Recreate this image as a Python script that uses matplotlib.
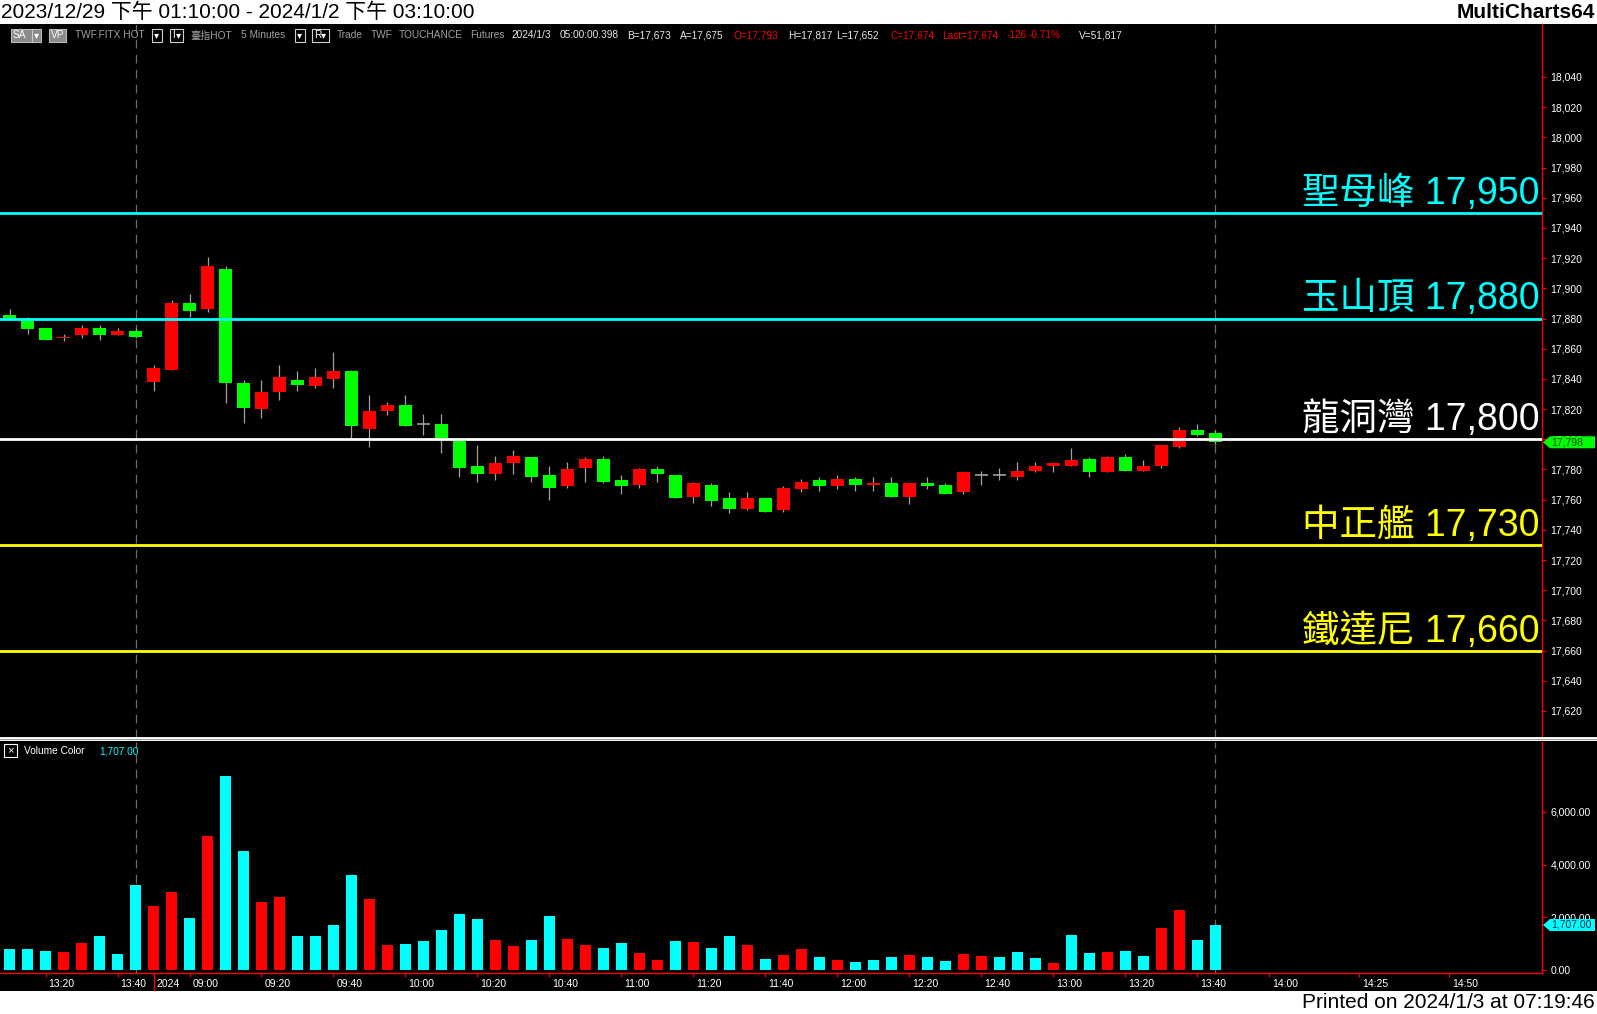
import matplotlib
matplotlib.use('Agg')
import matplotlib.pyplot as plt
import matplotlib.transforms as mtrans
from matplotlib.patches import Rectangle, Polygon
from matplotlib.lines import Line2D

plt.rcParams['font.family'] = ['Liberation Sans', 'Noto Sans CJK TC', 'DejaVu Sans']

W, H, DPI = 1597, 1014, 100

# ---------------- data ----------------
opens = [17882, 17880, 17874, 17867, 17869, 17874, 17869, 17872,
         17838, 17846, 17890, 17886, 17913, 17837, 17820, 17831, 17839, 17835, 17840, 17845,
         17807, 17819, 17823, 17810, 17810, 17800, 17782, 17777, 17784, 17788,
         17776, 17769, 17781, 17787, 17773, 17770, 17780, 17776, 17762, 17770,
         17761, 17754, 17761, 17753, 17767, 17773, 17769, 17774, 17770, 17771,
         17762, 17771, 17770, 17765, 17776, 17776, 17775, 17779, 17782, 17782,
         17787, 17778, 17788, 17779, 17782, 17795, 17806, 17804]
highs = [17886, 17881, 17874, 17870, 17876, 17876, 17874, 17874,
         17849, 17892, 17896, 17921, 17915, 17839, 17839, 17849, 17845, 17847, 17858, 17846,
         17829, 17825, 17829, 17817, 17817, 17800, 17796, 17789, 17793, 17788,
         17782, 17785, 17788, 17789, 17776, 17781, 17782, 17776, 17772, 17771,
         17765, 17765, 17761, 17769, 17774, 17775, 17776, 17775, 17775, 17775,
         17771, 17775, 17771, 17778, 17779, 17781, 17785, 17785, 17784, 17794,
         17788, 17789, 17790, 17786, 17796, 17808, 17810, 17806]
lows = [17879, 17870, 17866, 17865, 17867, 17866, 17869, 17867,
        17832, 17846, 17881, 17884, 17824, 17811, 17814, 17826, 17832, 17834, 17834, 17800,
        17795, 17816, 17809, 17803, 17791, 17775, 17772, 17773, 17777, 17772,
        17760, 17768, 17772, 17771, 17764, 17768, 17772, 17761, 17758, 17756,
        17751, 17753, 17752, 17752, 17765, 17766, 17767, 17766, 17766, 17762,
        17757, 17767, 17764, 17764, 17770, 17773, 17773, 17778, 17778, 17782,
        17775, 17778, 17779, 17779, 17781, 17794, 17802, 17797]
closes = [17879, 17873, 17866, 17868, 17874, 17869, 17872, 17868,
          17847, 17890, 17885, 17915, 17837, 17821, 17831, 17841, 17836, 17841, 17845, 17809,
          17819, 17823, 17809, 17810, 17800, 17781, 17777, 17784, 17789, 17775,
          17768, 17780, 17787, 17772, 17769, 17780, 17777, 17761, 17771, 17759,
          17754, 17761, 17752, 17768, 17772, 17769, 17774, 17770, 17771, 17762,
          17771, 17769, 17764, 17778, 17776, 17776, 17779, 17782, 17784, 17786,
          17778, 17788, 17779, 17782, 17796, 17806, 17803, 17798]
volumes = [796, 796, 720, 683, 1024, 1289, 607, 3223,
           2427, 2958, 1972, 5081, 7356, 4512, 2579, 2768, 1289, 1289, 1706, 3602,
           2692, 948, 986, 1100, 1517, 2124, 1934, 1138, 910, 1138,
           2048, 1176, 948, 834, 1024, 645, 379, 1100, 1062, 834,
           1289, 948, 417, 569, 796, 493, 379, 303, 379, 493,
           569, 493, 341, 607, 531, 493, 683, 455, 265, 1327,
           645, 683, 720, 531, 1593, 2275, 1138, 1707]
# U = up volume (red), D = down volume (cyan)
vol_dir = "DDDUUDDDUU" "DUDDUUDDDD" "UUDDDDDUUD" "DUUDDUUDUD" "DUDUUDUDDD" "UDDUUDDDUD" "DUDDUUDD"

session_end_bars = [7, 67]
session_start_bar = 8
tick_positions = [2, 6, 8, 10, 14, 18, 22, 26, 30, 34, 38, 42, 46, 50, 54, 58, 62, 66, 70, 75, 80]
tick_labels = ['13:20', '13:40', '2024', '09:00', '09:20', '09:40', '10:00', '10:20', '10:40',
               '11:00', '11:20', '11:40', '12:00', '12:20', '12:40', '13:00', '13:20', '13:40',
               '14:00', '14:25', '14:50']
price_ticks = list(range(17620, 18041, 20))
vol_ticks = [0, 2000, 4000, 6000]

level_names = ['聖母峰', '玉山頂', '龍洞灣', '中正艦', '鐵達尼']
level_values = [17950, 17880, 17800, 17730, 17660]
level_colors = ['#00FFFF', '#00FFFF', '#FFFFFF', '#FFFF00', '#FFFF00']

last_price = 17798
last_volume = 1707

title_text = '2023/12/29 下午 01:10:00 - 2024/1/2 下午 03:10:00'
printed_text = 'Printed on 2024/1/3 at 07:19:46'

# ---------------- figure ----------------
fig = plt.figure(figsize=(W / DPI, H / DPI), dpi=DPI, facecolor='white')


def fx(x):
    return x / W


def fy(y):
    return 1 - y / H


fig.patches.append(Rectangle((0, fy(991)), 1, fy(24) - fy(991), transform=fig.transFigure,
                             facecolor='black', edgecolor='none', zorder=-10))

ax = fig.add_axes([0, fy(738), fx(1542), fy(24) - fy(738)])
vax = fig.add_axes([0, fy(973), fx(1542), fy(742) - fy(973)])
for a in (ax, vax):
    a.set_facecolor('black')
    for s in ('top', 'left', 'bottom'):
        a.spines[s].set_visible(False)
    a.spines['right'].set_color('#FF0000')
    a.spines['right'].set_linewidth(1.0)
    a.set_xlim(-0.528, 85.14)

ax.set_ylim(17602.1, 18075.1)
vax.set_ylim(-114, 8648)

n = len(opens)
xs = list(range(n))
wick_c = '#A0A0A0'
ax.vlines(xs, lows, highs, color=wick_c, lw=0.9, zorder=2)
bw = 0.72
for i in xs:
    o, c = opens[i], closes[i]
    if c > o:
        ax.bar(i, c - o, bottom=o, width=bw, color='#FF0000', zorder=3, linewidth=0)
    elif c < o:
        ax.bar(i, o - c, bottom=c, width=bw, color='#00FF00', zorder=3, linewidth=0)
    else:
        ax.hlines(o, i - bw / 2, i + bw / 2, color=wick_c, lw=1.2, zorder=3)

for name, val, col in zip(level_names, level_values, level_colors):
    ax.axhline(val, color=col, lw=2.0, zorder=5)
    ax.text(0.9985, val + 6, f'{name} {val:,}', color=col, fontsize=27,
            ha='right', va='baseline', transform=mtrans.blended_transform_factory(ax.transAxes, ax.transData),
            zorder=6)

for b in session_end_bars:
    for a in (ax, vax):
        a.axvline(b, color='#6A6A6A', lw=0.9, ls=(0, (7, 5)), zorder=1)

ax.yaxis.tick_right()
ax.set_yticks(price_ticks)
ax.set_yticklabels([f'{v:,}' for v in price_ticks])
ax.tick_params(axis='y', colors='#FF0000', labelcolor='white', length=3, width=0.8, labelsize=7.5, pad=3)
ax.set_xticks([])

# volume
vcols = ['#FF0000' if d == 'U' else '#00FFFF' for d in vol_dir]
vax.bar(xs, volumes, width=0.61, color=vcols, linewidth=0, zorder=3)
vax.yaxis.tick_right()
vax.set_yticks(vol_ticks)
vax.set_yticklabels([f'{v:,.2f}' for v in vol_ticks])
vax.tick_params(axis='y', colors='#FF0000', labelcolor='white', length=3, width=0.8, labelsize=7.5, pad=3)
vax.spines['bottom'].set_visible(True)
vax.spines['bottom'].set_color('#FF0000')
vax.spines['bottom'].set_linewidth(1.0)
vax.set_xticks(tick_positions)
vax.set_xticklabels(tick_labels)
vax.tick_params(axis='x', colors='#FF0000', labelcolor='white', length=3, width=0.8, labelsize=7.5, pad=1.5)
shift = mtrans.ScaledTranslation(0.03, 0, fig.dpi_scale_trans)
for lbl in vax.get_xticklabels():
    lbl.set_horizontalalignment('left')
    lbl.set_transform(lbl.get_transform() + shift)
vax.plot([session_start_bar, session_start_bar], [0, -0.075], color='#FF0000', lw=1.0,
         transform=mtrans.blended_transform_factory(vax.transData, vax.transAxes), clip_on=False)

# price tag (drawn above the axes so it covers the tick label)
bt = mtrans.blended_transform_factory(fig.transFigure, ax.transData)
hp = 6 / 1.5095
fig.add_artist(Polygon([(fx(1543), last_price), (fx(1550), last_price + hp), (fx(1595), last_price + hp),
                        (fx(1595), last_price - hp), (fx(1550), last_price - hp)], closed=True,
                       transform=bt, facecolor='#00FF00', edgecolor='none', zorder=10))
fig.text(fx(1551), last_price, f'{last_price:,}', transform=bt, color='#004000', fontsize=7.5,
         va='center', ha='left', zorder=11)

vbt = mtrans.blended_transform_factory(fig.transFigure, vax.transData)
hv = 6 * 37.93
fig.add_artist(Polygon([(fx(1543), last_volume), (fx(1550), last_volume + hv), (fx(1595), last_volume + hv),
                        (fx(1595), last_volume - hv), (fx(1550), last_volume - hv)], closed=True,
                       transform=vbt, facecolor='#00FFFF', edgecolor='none', zorder=10))
fig.text(fx(1551), last_volume, f'{last_volume:,.2f}', transform=vbt, color='#003050', fontsize=7.5,
         va='center', ha='left', zorder=11)

# panel separator
fig.add_artist(Line2D([0, 1], [fy(739.3), fy(739.3)], transform=fig.transFigure, color='white', lw=2.8, zorder=8))
fig.add_artist(Line2D([0, 1], [fy(739.3), fy(739.3)], transform=fig.transFigure, color='#9A9A9A', lw=0.7, zorder=9))

# title and footer
fig.text(fx(1), fy(12), title_text, color='black', fontsize=15, ha='left', va='center')
fig.text(fx(1595), fy(12), 'MultiCharts64', color='black', fontsize=15, fontweight='bold', ha='right', va='center')
fig.text(fx(1595), fy(1002), printed_text, color='black', fontsize=15, ha='right', va='center')

# info line
iy = 35.5


def box(x0, x1, fill, edge):
    fig.add_artist(Rectangle((fx(x0), fy(42)), fx(x1) - fx(x0), fy(29) - fy(42), transform=fig.transFigure,
                             facecolor=fill, edgecolor=edge, lw=0.8, zorder=5))


def itext(x, s, col, ha='left'):
    fig.text(fx(x), fy(iy), s, color=col, fontsize=7.3, ha=ha, va='center', zorder=6)


gray = '#A0A0A0'
box(11, 41, '#8C8C8C', '#B8B8B8')
fig.add_artist(Line2D([fx(32), fx(32)], [fy(29), fy(42)], transform=fig.transFigure, color='#D0D0D0', lw=0.7, zorder=6))
itext(13, 'SA', 'white')
itext(36.5, '▾', 'white', 'center')
box(49, 66, '#8C8C8C', '#B8B8B8')
itext(51, 'VP', 'white')
itext(75, 'TWF.FITX HOT', gray)
box(152, 162, 'black', '#D0D0D0')
itext(157, '▾', 'white', 'center')
box(170, 183, 'black', '#D0D0D0')
itext(172, 'I', 'white')
itext(178.5, '▾', 'white', 'center')
itext(190, '臺指HOT', gray)
itext(241, '5 Minutes', gray)
box(295, 305, 'black', '#D0D0D0')
itext(300, '▾', 'white', 'center')
box(312, 329, 'black', '#D0D0D0')
itext(314, 'R', 'white')
itext(324, '▾', 'white', 'center')
itext(337, 'Trade', gray)
itext(371, 'TWF', gray)
itext(399, 'TOUCHANCE', gray)
itext(470, 'Futures', gray)
wh = '#E8E8E8'
red = '#FF0000'
itext(511, '2024/1/3', wh)
itext(560, '05:00:00.398', wh)
itext(627, 'B=17,673', wh)
itext(680, 'A=17,675', wh)
itext(733, 'O=17,793', red)
itext(788, 'H=17,817', wh)
itext(836, 'L=17,652', wh)
itext(890, 'C=17,674', red)
itext(942, 'Last=17,674', red)
itext(1007, '-126', red)
itext(1029, '-0.71%', red)
itext(1079, 'V=51,817', wh)

# volume panel legend
fig.add_artist(Rectangle((fx(4), fy(757)), fx(13), fy(744) - fy(757), transform=fig.transFigure,
                         facecolor='black', edgecolor='white', lw=0.8, zorder=5))
fig.text(fx(10.5), fy(750.5), '×', color='white', fontsize=8, ha='center', va='center', zorder=6)
fig.text(fx(24), fy(751), 'Volume Color', color='white', fontsize=7.3, ha='left', va='center')
fig.text(fx(99), fy(751), f'{last_volume:,.2f}', color='#00FFFF', fontsize=7.3, ha='left', va='center')

fig.savefig('out.png', dpi=DPI, facecolor='white')
